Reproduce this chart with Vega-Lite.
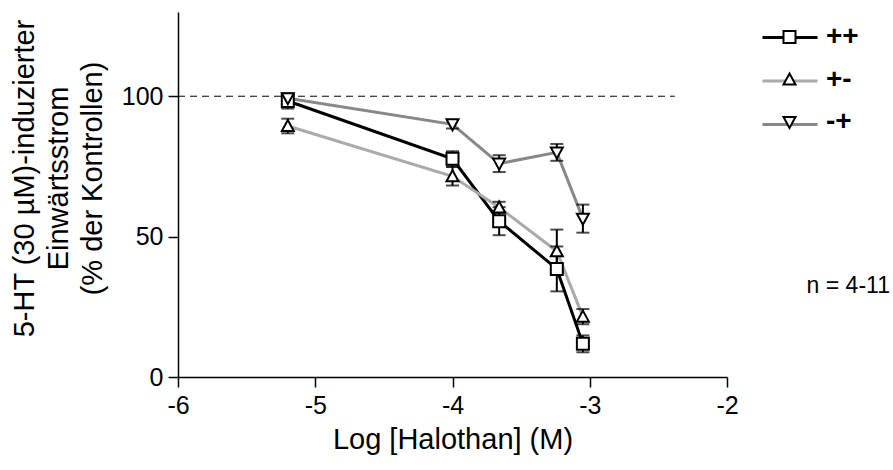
{
  "$schema": "https://vega.github.io/schema/vega-lite/v6.json",
  "width": 549,
  "height": 365,
  "autosize": {"type": "none"},
  "padding": {"left": 178, "top": 12, "right": 166, "bottom": 93},
  "background": "white",
  "config": {
    "view": {"stroke": null},
    "font": "Liberation Sans",
    "axis": {
      "grid": false,
      "domainColor": "black",
      "tickColor": "black",
      "labelColor": "black",
      "titleColor": "black",
      "domainWidth": 1.5,
      "tickWidth": 1.5,
      "tickSize": 10,
      "labelFontSize": 25,
      "titleFontSize": 29,
      "titleFontWeight": "normal",
      "labelFont": "Liberation Sans",
      "titleFont": "Liberation Sans"
    }
  },
  "data": {
    "values": [
      {"series": "++", "x": -5.2, "y": 98.3, "err": 2.7},
      {"series": "++", "x": -4.0, "y": 77.7, "err": 2.7},
      {"series": "++", "x": -3.66, "y": 55.5, "err": 5},
      {"series": "++", "x": -3.24, "y": 38.5, "err": 8},
      {"series": "++", "x": -3.05, "y": 11.8, "err": 3},
      {"series": "+-", "x": -5.2, "y": 89.4, "err": 2.6},
      {"series": "+-", "x": -4.0, "y": 71.5, "err": 3.3},
      {"series": "+-", "x": -3.66, "y": 60.4, "err": 2},
      {"series": "+-", "x": -3.24, "y": 44.8, "err": 7.7},
      {"series": "+-", "x": -3.05, "y": 21.5, "err": 2.7},
      {"series": "-+", "x": -5.2, "y": 99.3, "err": 1.5},
      {"series": "-+", "x": -4.0, "y": 90.0, "err": 1.5},
      {"series": "-+", "x": -3.66, "y": 76.0, "err": 3},
      {"series": "-+", "x": -3.24, "y": 80.0, "err": 3},
      {"series": "-+", "x": -3.05, "y": 56.4, "err": 5}
    ]
  },
  "layer": [
    {
      "data": {"values": [{"label": "100 %"}]},
      "mark": {"type": "rule", "strokeDash": [7, 5], "color": "black", "strokeWidth": 1},
      "encoding": {
        "x": {"datum": -6, "type": "quantitative", "scale": {"domain": [-6, -2], "nice": false}},
        "x2": {"datum": -2.38},
        "y": {"datum": 100, "type": "quantitative", "scale": {"domain": [0, 130], "nice": false}}
      }
    },
    {
      "mark": {"type": "line", "strokeWidth": 3},
      "encoding": {
        "x": {
          "field": "x", "type": "quantitative",
          "scale": {"domain": [-6, -2], "nice": false},
          "axis": {
            "values": [-6, -5, -4, -3, -2],
            "labelExpr": "'' + datum.value",
            "title": "Log [Halothan] (M)",
            "labelPadding": 6,
            "labelFlush": false,
            "titleY": 71,
            "titleBaseline": "alphabetic"
          }
        },
        "y": {
          "field": "y", "type": "quantitative",
          "scale": {"domain": [0, 130], "nice": false},
          "title": ["5-HT (30 µM)-induzierter", "Einwärtsstrom", "(% der Kontrollen)"],
          "axis": {
            "values": [0, 50, 100],
            "labelExpr": "'' + datum.value",
            "labelPadding": 5,
            "titleX": -145,
            "titleY": 166,
            "titleAngle": 270,
            "titleAlign": "center",
            "titleBaseline": "alphabetic",
            "titleLineHeight": 34
          }
        },
        "color": {
          "field": "series", "type": "nominal",
          "scale": {"domain": ["++", "+-", "-+"], "range": ["#000000", "#aaaaaa", "#888888"]},
          "legend": {
            "orient": "none",
            "legendX": 590.5,
            "legendY": 4,
            "title": null,
            "padding": 0,
            "rowPadding": 7.5,
            "symbolType": "M-1.375,0H1.375",
            "symbolSize": 1600,
            "symbolStrokeWidth": 3,
            "labelExpr": "''",
            "labelFontSize": 28,
            "labelOffset": 15.5
          }
        }
      }
    },
    {
      "mark": {"type": "errorbar", "color": "black", "thickness": 2, "ticks": {"size": 13, "thickness": 2, "color": "black"}},
      "encoding": {
        "x": {"field": "x", "type": "quantitative", "scale": {"domain": [-6, -2], "nice": false}},
        "y": {"field": "y", "type": "quantitative", "scale": {"domain": [0, 130], "nice": false}, "title": ["5-HT (30 µM)-induzierter", "Einwärtsstrom", "(% der Kontrollen)"]},
        "yError": {"field": "err"}
      }
    },
    {
      "mark": {"type": "point", "filled": false, "fill": "white", "color": "black", "stroke": "black", "strokeWidth": 2, "size": 1600, "opacity": 1},
      "encoding": {
        "x": {"field": "x", "type": "quantitative", "scale": {"domain": [-6, -2], "nice": false}},
        "y": {"field": "y", "type": "quantitative", "scale": {"domain": [0, 130], "nice": false}},
        "shape": {
          "field": "series", "type": "nominal",
          "scale": {"range": ["M-0.3,-0.3H0.3V0.3H-0.3Z", "M0,-0.3L0.3,0.25H-0.3Z", "M-0.3,-0.25H0.3L0,0.3Z"]},
          "legend": {
            "orient": "none",
            "legendX": 590.5,
            "legendY": 4,
            "title": null,
            "padding": 0,
            "rowPadding": 7.5,
            "symbolSize": 1600,
            "symbolStrokeWidth": 2,
            "labelFontSize": 28,
            "labelFontWeight": "bold",
            "labelColor": "black",
            "labelOffset": 15.5
          }
        }
      }
    },
    {
      "data": {"values": [{"label": "n = 4-11"}]},
      "mark": {"type": "text", "align": "left", "baseline": "alphabetic", "fontSize": 23, "font": "Liberation Sans", "color": "black"},
      "encoding": {
        "x": {"datum": -1.42, "type": "quantitative", "scale": {"domain": [-6, -2], "nice": false}},
        "y": {"datum": 30, "type": "quantitative", "scale": {"domain": [0, 130], "nice": false}},
        "text": {"field": "label"}
      }
    }
  ]
}
